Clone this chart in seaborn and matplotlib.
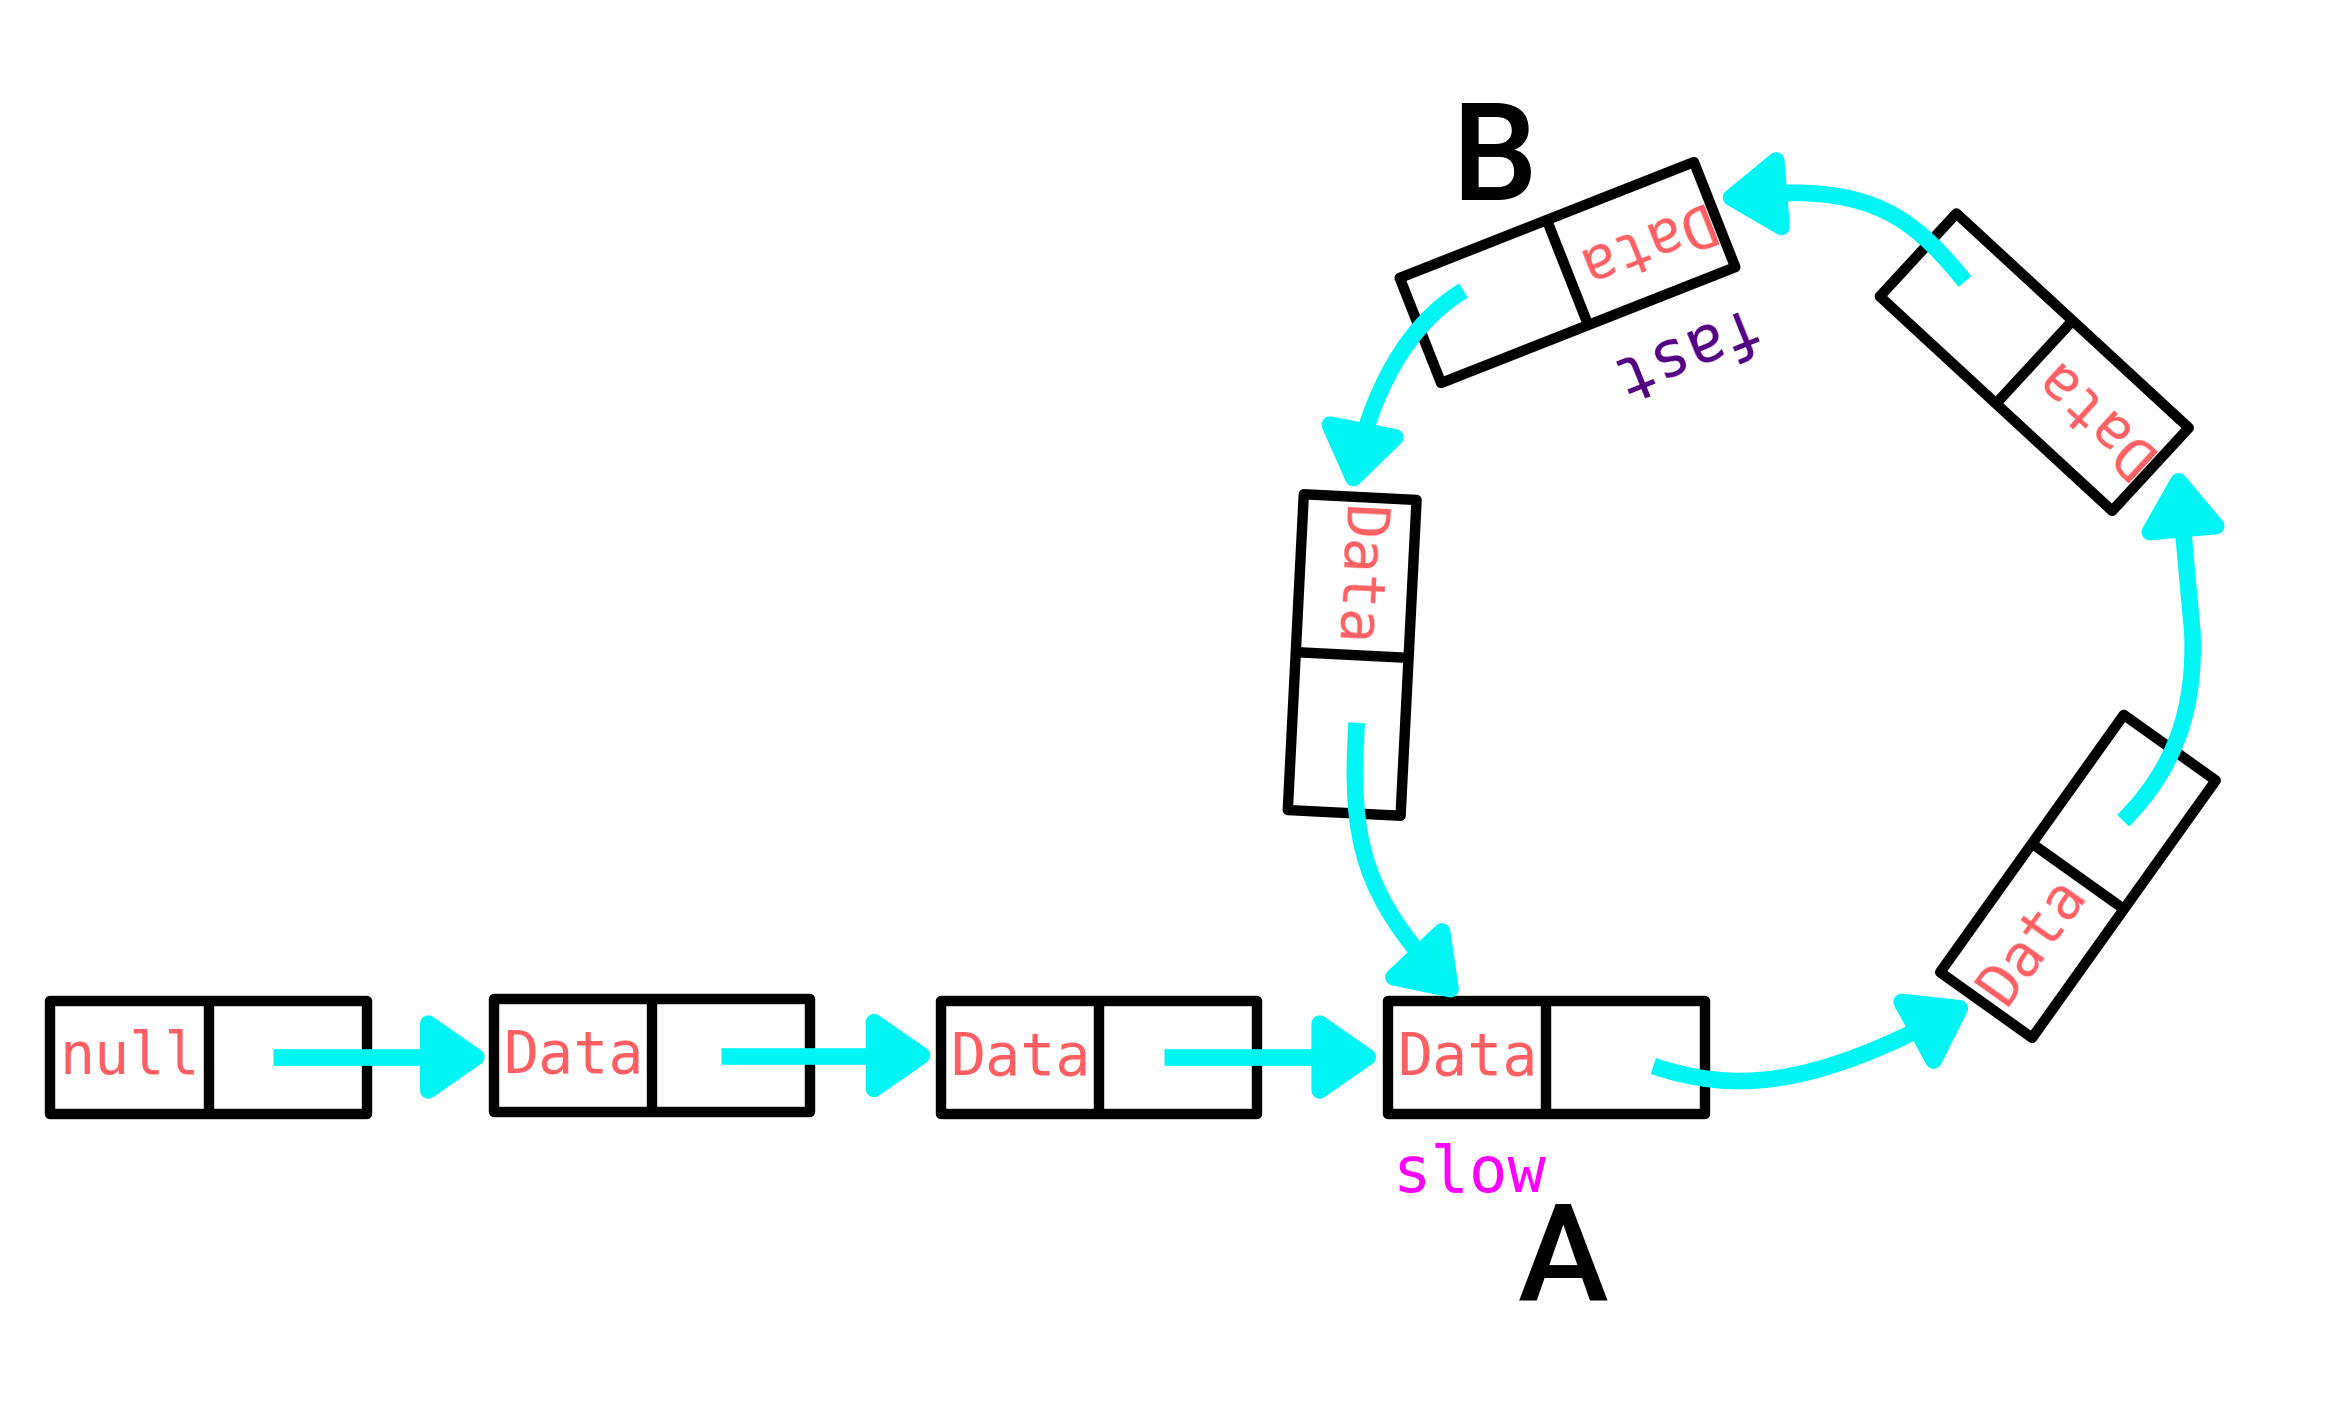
import numpy as np
import matplotlib.pyplot as plt
import seaborn as sns
from matplotlib.patches import Polygon, FancyArrowPatch
from matplotlib.path import Path

# linked-list nodes: centre, direction data-cell -> pointer-cell (deg, y down)
node_labels = ['null', 'Data', 'Data', 'Data', 'Data', 'Data', 'Data', 'Data']
node_x = [138.5, 433, 730, 1027, 1380, 1351, 1041, 898]
node_y = [702.5, 701, 702.5, 702.5, 582, 240.5, 181, 435]
node_angle = [0, 0, 0, 0, -54.5, -137.3, 158.5, 92.9]

# next-pointers (M = move, L = line, C = cubic control)
link_points = [
    [(181, 702), (326, 702)],
    [(479, 701), (622, 701)],
    [(773, 702), (918, 702)],
    [(1098, 708), (1150, 725), (1200, 725), (1310, 665)],
    [(1410, 545), (1445, 510), (1458, 470), (1456, 420), (1446, 310)],
    [(1305, 187), (1275, 150), (1250, 128), (1190, 128), (1140, 132)],
    [(972, 193), (935, 215), (910, 260), (897, 327)],
    [(901, 480), (896, 560), (905, 595), (970, 664)],
]
link_kinds = ['ML', 'ML', 'ML', 'MCCC', 'MCCCL', 'MCCCL', 'MCCC', 'MCCC']

# annotations
tag_text = ['slow', 'fast']
tag_x = [976, 1113]
tag_y = [780, 234]
tag_rot = [0, 202]
tag_color = ['#ff00ff', '#520082']

point_text = ['A', 'B']
point_x = [1038, 992]
point_y = [839, 108]

NODE_L, NODE_W = 210, 75
RED = '#ff5f63'
CYAN = '#00f5f5'

sns.set_theme(style='white')

fig = plt.figure(figsize=(23.49, 14.27), dpi=100)
ax = fig.add_axes([0, 0, 1, 1])
ax.set_xlim(0, 1560)
ax.set_ylim(947.7, 0)
ax.axis('off')

for lab, cx, cy, ang in zip(node_labels, node_x, node_y, node_angle):
    a = np.deg2rad(ang)
    u = np.array([np.cos(a), np.sin(a)])
    v = np.array([-np.sin(a), np.cos(a)])
    c = np.array([cx, cy])
    corners = [c - u * NODE_L / 2 - v * NODE_W / 2,
               c + u * NODE_L / 2 - v * NODE_W / 2,
               c + u * NODE_L / 2 + v * NODE_W / 2,
               c - u * NODE_L / 2 + v * NODE_W / 2]
    ax.add_patch(Polygon(corners, closed=True, fill=False, edgecolor='black',
                         linewidth=7.5, joinstyle='round', zorder=2))
    d1, d2 = c - v * NODE_W / 2, c + v * NODE_W / 2
    ax.plot([d1[0], d2[0]], [d1[1], d2[1]], color='black', lw=7.5,
            solid_capstyle='butt', zorder=2)
    tx, ty = c - u * NODE_L / 4
    ax.text(tx, ty, lab, color=RED, fontsize=42, family='DejaVu Sans Mono',
            ha='center', va='center', rotation=-ang, rotation_mode='anchor', zorder=3)

code_map = {'M': Path.MOVETO, 'L': Path.LINETO, 'C': Path.CURVE4}
for pts, kinds in zip(link_points, link_kinds):
    path = Path(pts, [code_map[k] for k in kinds])
    arr = FancyArrowPatch(path=path,
                          arrowstyle='-|>,head_length=1.15,head_width=0.8',
                          mutation_scale=30, color=CYAN, lw=12,
                          joinstyle='round', capstyle='butt', zorder=4)
    ax.add_patch(arr)

for t, x, y, r, col in zip(tag_text, tag_x, tag_y, tag_rot, tag_color):
    ax.text(x, y, t, color=col, fontsize=46, family='DejaVu Sans Mono',
            ha='center', va='center', rotation=r, rotation_mode='anchor', zorder=3)

for t, x, y in zip(point_text, point_x, point_y):
    ax.text(x, y, t, color='black', fontsize=98, family='Roboto',
            fontweight='medium', ha='center', va='center', zorder=3)

fig.savefig('out.png', dpi=100)
